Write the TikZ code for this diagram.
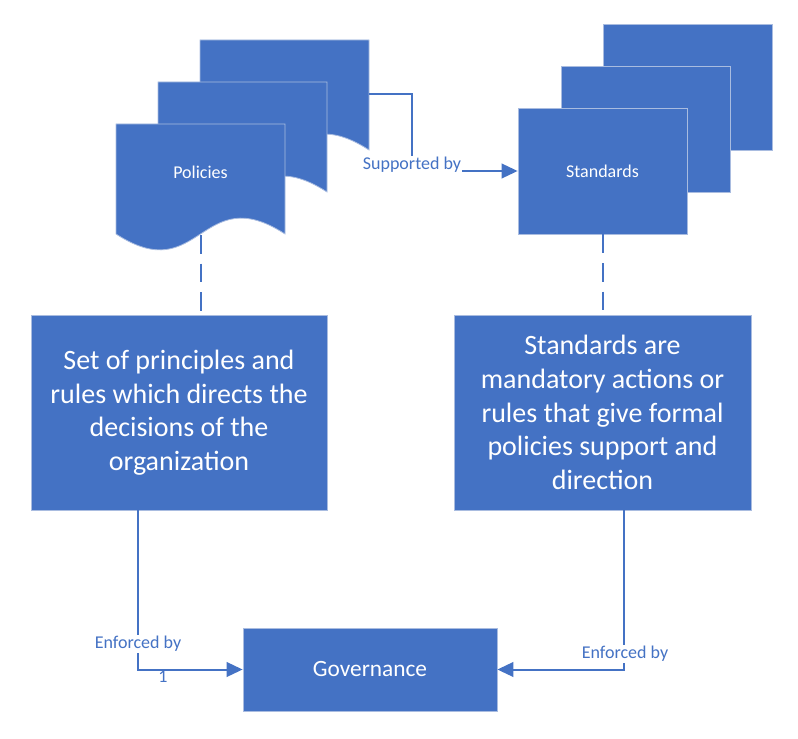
\documentclass[tikz,border=0pt]{standalone}
\usepackage{fontspec}
\setmainfont{Carlito}
\usetikzlibrary{arrows.meta}
\definecolor{vblue}{HTML}{4472C4}
\definecolor{vedge}{HTML}{A9BCE0}
\newcommand{\docshp}[2]{%
  \draw[shapebox] (#1,#2) -- (#1+169,#2) -- (#1+169,#2+110)
    .. controls (#1+84.5,#2+55) and (#1+84.5,#2+165) .. (#1,#2+110) -- cycle;}
\begin{document}
\begin{tikzpicture}[x=0.75pt,y=-0.75pt,
  shapebox/.style={fill=vblue,draw=vedge,line width=0.6pt},
  boxnode/.style={shapebox,rectangle,inner sep=2pt,text=white},
  conn/.style={draw=vblue,line width=1.5pt},
  dashconn/.style={draw=vblue,line width=1.5pt,dash pattern=on 14pt off 7.5pt},
  lbl/.style={fill=white,text=vblue,font=\fontsize{13.5}{16}\selectfont,inner sep=1pt},
  smalltxt/.style={text=white,font=\fontsize{13.5}{16}\selectfont},
  bigtxt/.style={font=\fontsize{21}{25.2}\selectfont,align=center},
  arr/.style={-{Triangle[length=12pt,width=11pt]}}
]
\useasboundingbox (0,0) rectangle (798,738);

% Policies (multi-document)
\docshp{200}{40}
\docshp{158}{82}
\docshp{116}{124}
\node[smalltxt] (pol) at (200.5,172) {Policies};
\coordinate (pol3e) at (369,94);
\coordinate (polbot) at (200.7,235);

% Standards (multi-rectangle)
\node[boxnode,minimum width=126.75pt,minimum height=94.5pt] (std3) at (687.5,87) {};
\node[boxnode,minimum width=126.75pt,minimum height=94.5pt] (std2) at (645.5,129) {};
\node[boxnode,minimum width=126.75pt,minimum height=94.5pt,smalltxt] (std) at (602.5,171) {Standards};

% Description boxes
\node[boxnode,bigtxt,minimum width=222pt,minimum height=146.25pt] (lbox) at (179,412.5)
  {Set of principles and\\rules which directs the\\decisions of the\\organization};
\node[boxnode,bigtxt,minimum width=222.75pt,minimum height=146.25pt] (rbox) at (602.5,412.5)
  {Standards are\\mandatory actions or\\rules that give formal\\policies support and\\direction};

% Governance
\node[boxnode,font=\fontsize{17.5}{21}\selectfont,minimum width=190.5pt,minimum height=62.25pt] (gov) at (370,669.5) {Governance};

% Supported by
\coordinate (bend1) at (412,171);
\draw[conn,arr] (pol3e) -| (bend1) -- (std.west);
\node[lbl] (sup) at (412,165) {Supported by};

% Dashed links
\draw[dashconn] (polbot) -- (polbot |- lbox.north);
\draw[dashconn] (std.south) -- (rbox.north);

% Enforced by (left)
\node[text=vblue,font=\fontsize{13.5}{16}\selectfont,anchor=base,inner sep=0pt] (one) at (163,682) {1};
\coordinate (e1) at (138,669.5);
\draw[conn,arr] (e1 |- lbox.south) -- (e1) -- (gov.west);
\node[lbl] (enf1) at (138,644) {Enforced by};

% Enforced by (right)
\coordinate (e2) at (624,669.5);
\draw[conn,arr] (e2 |- rbox.south) -- (e2) -- (gov.east);
\node[lbl] (enf2) at (625,654) {Enforced by};
\end{tikzpicture}
\end{document}
